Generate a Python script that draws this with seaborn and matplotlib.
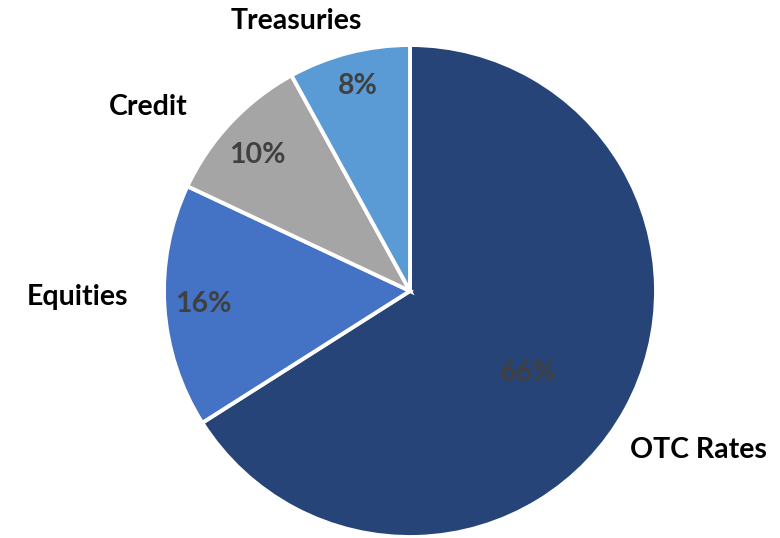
import numpy as np
import matplotlib
matplotlib.use("Agg")
import matplotlib.pyplot as plt
import seaborn as sns

categories = ["OTC Rates", "Equities", "Credit", "Treasuries"]
values = [66, 16, 10, 8]
colors = ["#264478", "#4472C4", "#A5A5A5", "#5B9BD5"]

sns.set_theme(style="white")
plt.rcParams['font.family'] = ['Lato', 'DejaVu Sans']

fig = plt.figure(figsize=(7.8, 5.38), dpi=100)
ax = fig.add_axes([0, 0, 1, 1])
ax.set_axis_off()

cx, cy, R = 410.0, 291.0, 246.0

wedges, texts, autotexts = ax.pie(
    values, colors=colors, startangle=90, counterclock=False,
    labels=categories, autopct=lambda p: f"{p:.0f}%",
    wedgeprops=dict(edgecolor="white", linewidth=2.8),
    textprops=dict(fontsize=20.5, fontweight="bold"),
    radius=1.0,
)
ax.set_aspect("auto")
ax.set_xlim((0 - cx) / R, (780 - cx) / R)
ax.set_ylim((cy - 538) / R, cy / R)

# label placement (distance, angle offset in degrees)
label_layout = [(1.34, 0.0), (1.35, -2.5), (1.30, 8.0), (1.19, 8.5)]
pct_layout = [(0.585, -6.0), (0.84, 0.0), (0.83, 1.4), (0.86, 0.0)]
for w, t, a, (ld, lo), (pd, po) in zip(wedges, texts, autotexts, label_layout, pct_layout):
    mid = np.deg2rad((w.theta1 + w.theta2) / 2 + lo)
    t.set_position((ld * np.cos(mid), ld * np.sin(mid)))
    t.set_ha("center"); t.set_va("center")
    t.set_color("black")
    midp = np.deg2rad((w.theta1 + w.theta2) / 2 + po)
    a.set_position((pd * np.cos(midp), pd * np.sin(midp)))
    a.set_ha("center"); a.set_va("center")
    a.set_color("#404040")

fig.savefig("out.png", dpi=100)
